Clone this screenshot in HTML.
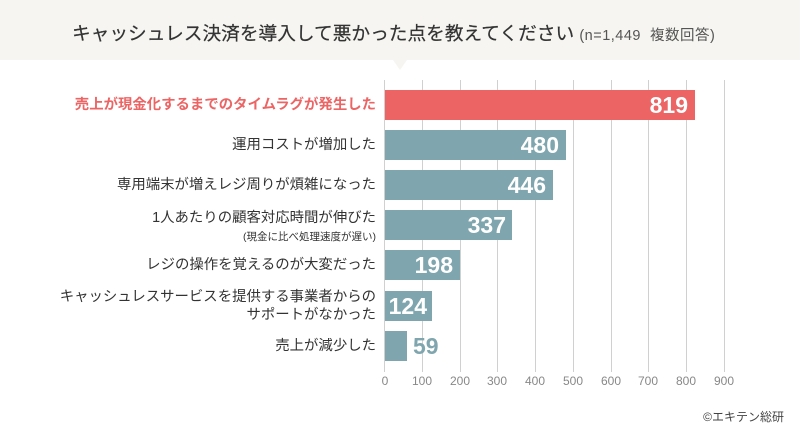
<!DOCTYPE html>
<html><head><meta charset="utf-8"><style>
body{margin:0;width:800px;height:430px;background:#fff;position:relative;overflow:hidden;font-family:"Liberation Sans","Noto Sans CJK JP",sans-serif;}
.hd{position:absolute;left:0;top:0;width:800px;height:60px;background:#f6f5f1;}
.tri{position:absolute;left:393px;top:60px;width:0;height:0;border-left:7px solid transparent;border-right:7px solid transparent;border-top:10px solid #f6f5f1;}
.title{position:absolute;left:72px;top:19px;font-size:18.7px;color:#333;white-space:nowrap;-webkit-text-stroke:0.2px #333}
.title small{font-size:14.5px;color:#555;-webkit-text-stroke:0;letter-spacing:0.5px}
.g{position:absolute;top:80px;height:292px;width:1px;background:#d0d0d0}
.t{position:absolute;top:374px;font-size:12px;color:#888;width:40px;text-align:center}
.bar{position:absolute;left:385px;height:30px;background:#7fa6ae}
.v{position:absolute;font-size:23px;font-weight:bold;color:#fff;height:30px;line-height:30px;text-align:right}
.lab{position:absolute;right:424px;font-size:14.4px;color:#333;text-align:right;white-space:nowrap;line-height:18px}
.cr{position:absolute;right:16px;top:408px;font-size:12px;color:#444}
</style></head><body>
<div class="hd"></div><div class="tri"></div>
<div class="title">キャッシュレス決済を導入して悪かった点を教えてください <small>(n=1,449&nbsp; 複数回答)</small></div>
<div class="g" style="left:384px"></div><div class="g" style="left:422px"></div><div class="g" style="left:460px"></div><div class="g" style="left:497px"></div><div class="g" style="left:535px"></div><div class="g" style="left:573px"></div><div class="g" style="left:611px"></div><div class="g" style="left:648px"></div><div class="g" style="left:686px"></div><div class="g" style="left:724px"></div>
<div class="t" style="left:365px">0</div><div class="t" style="left:402px">100</div><div class="t" style="left:440px">200</div><div class="t" style="left:477px">300</div><div class="t" style="left:515px">400</div><div class="t" style="left:553px">500</div><div class="t" style="left:591px">600</div><div class="t" style="left:628px">700</div><div class="t" style="left:666px">800</div><div class="t" style="left:704px">900</div>

<div class="bar" style="top:90px;width:310px;background:#ec6464"></div><div class="v" style="left:600px;width:88px;top:90px">819</div>
<div class="bar" style="top:130px;width:181px"></div><div class="v" style="left:470px;width:89px;top:130px">480</div>
<div class="bar" style="top:170px;width:168px"></div><div class="v" style="left:460px;width:86px;top:170px">446</div>
<div class="bar" style="top:210px;width:127px"></div><div class="v" style="left:420px;width:86px;top:210px">337</div>
<div class="bar" style="top:250px;width:75px"></div><div class="v" style="left:385px;width:68px;top:250px">198</div>
<div class="bar" style="top:291px;width:47px"></div><div class="v" style="left:385px;width:42px;top:291px">124</div>
<div class="bar" style="top:331px;width:22px"></div><div class="v" style="left:413px;width:30px;top:331px;color:#7fa6ae;text-align:left">59</div>

<div class="lab" style="top:96px;color:#ec6464;font-weight:bold">売上が現金化するまでのタイムラグが発生した</div>
<div class="lab" style="top:136px">運用コストが増加した</div>
<div class="lab" style="top:176px">専用端末が増えレジ周りが煩雑になった</div>
<div class="lab" style="top:209px">1人あたりの顧客対応時間が伸びた<br><span style="font-size:10.5px;line-height:13px">(現金に比べ処理速度が遅い)</span></div>
<div class="lab" style="top:256px">レジの操作を覚えるのが大変だった</div>
<div class="lab" style="top:288px">キャッシュレスサービスを提供する事業者からの<br>サポートがなかった</div>
<div class="lab" style="top:337px">売上が減少した</div>
<div class="cr">©エキテン総研</div>
</body></html>
